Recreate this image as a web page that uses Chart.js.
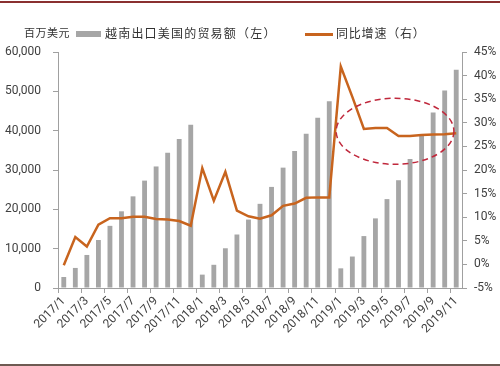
<!DOCTYPE html>
<html>
<head>
<meta charset="utf-8">
<script src="https://cdn.jsdelivr.net/npm/chart.js@4.4.1/dist/chart.umd.min.js"></script>
<style>
  html, body { margin: 0; padding: 0; background: #fff; }
  #wrap { position: relative; width: 500px; height: 366px; overflow: hidden; background: #fff; }
  #c { position: absolute; left: 0; top: 0; }
  .bd { position: absolute; left: 0; width: 500px; }
  .lg { position: absolute; font-family: "Noto Sans CJK SC", sans-serif; color: #333; white-space: nowrap; line-height: 1; }
</style>
</head>
<body>
<div id="wrap">
  <canvas id="c" width="500" height="366"></canvas>
  <div class="bd" style="top:1px;height:2px;background:#8a3030;"></div>
  <div class="bd" style="top:364px;height:2px;background:#6e5a52;"></div>
  <div class="lg" style="left:24px;top:27px;font-size:11px;letter-spacing:0.5px;">百万美元</div>
  <div style="position:absolute;left:76px;top:31px;width:25px;height:6px;background:#a6a6a6;"></div>
  <div class="lg" style="left:105px;top:27px;font-size:12px;letter-spacing:1.2px;">越南出口美国的贸易额（左）</div>
  <div style="position:absolute;left:305px;top:33px;width:28px;height:3px;background:#c8641e;"></div>
  <div class="lg" style="left:336px;top:27px;font-size:12px;letter-spacing:0.8px;">同比增速（右）</div>
</div>
<script>
const categories = [
  "2017/1","2017/2","2017/3","2017/4","2017/5","2017/6","2017/7","2017/8","2017/9","2017/10","2017/11","2017/12",
  "2018/1","2018/2","2018/3","2018/4","2018/5","2018/6","2018/7","2018/8","2018/9","2018/10","2018/11","2018/12",
  "2019/1","2019/2","2019/3","2019/4","2019/5","2019/6","2019/7","2019/8","2019/9","2019/10","2019/11"
];
// 越南出口美国的贸易额（累计，百万美元）
const tradeValue = [
  2800, 5100, 8400, 12200, 15800, 19500, 23300, 27300, 30900, 34400, 37900, 41500,
  3400, 5900, 10100, 13600, 17400, 21400, 25700, 30600, 34800, 39200, 43300, 47500,
  5000, 8000, 13200, 17700, 22600, 27400, 32800, 38900, 44600, 50200, 55500
];
// 同比增速（%）
const yoyGrowth = [
  -0.2, 5.8, 3.8, 8.4, 9.8, 9.8, 10.1, 10.1, 9.6, 9.5, 9.2, 8.2,
  20.4, 13.5, 19.6, 11.4, 10.2, 9.7, 10.4, 12.4, 12.9, 14.1, 14.2, 14.2,
  41.9, 35.5, 28.7, 28.9, 28.9, 27.2, 27.2, 27.4, 27.5, 27.6, 27.8
];
const leftTicks = [0, 10000, 20000, 30000, 40000, 50000, 60000];
const rightTicks = [-5, 0, 5, 10, 15, 20, 25, 30, 35, 40, 45];

// highlight ellipse annotation, in data units (category index / right-axis %)
const highlight = { xCenter: 28.7, xRadius: 5.1, yCenter: 28.2, yRadius: 7.0 };

const tickFont = { family: "'Liberation Sans Narrow', 'Roboto', sans-serif", size: 12 };
const axisGray = '#a0a0a0';

const ellipsePlugin = {
  id: 'ellipse',
  afterDatasetsDraw(chart) {
    const x = chart.scales.x, y1 = chart.scales.y1, ctx = chart.ctx;
    const cx = x.getPixelForValue(highlight.xCenter);
    const rx = Math.abs(x.getPixelForValue(highlight.xCenter + highlight.xRadius) - cx);
    const cy = y1.getPixelForValue(highlight.yCenter);
    const ry = Math.abs(y1.getPixelForValue(highlight.yCenter + highlight.yRadius) - cy);
    ctx.save();
    ctx.beginPath();
    ctx.ellipse(cx, cy, rx, ry, 0, 0, Math.PI * 2);
    ctx.setLineDash([6, 4]);
    ctx.lineWidth = 1.5;
    ctx.strokeStyle = '#c0283c';
    ctx.stroke();
    ctx.restore();
  }
};

new Chart(document.getElementById('c'), {
  data: {
    labels: categories,
    datasets: [
      {
        type: 'line', label: '同比增速（右）', data: yoyGrowth, yAxisID: 'y1',
        borderColor: '#c8641e', borderWidth: 2.5, pointRadius: 0, tension: 0, order: 0
      },
      {
        type: 'bar', label: '越南出口美国的贸易额（左）', data: tradeValue, yAxisID: 'y',
        backgroundColor: '#a6a6a6', barPercentage: 0.42, categoryPercentage: 1, order: 1
      }
    ]
  },
  options: {
    responsive: false, animation: false, devicePixelRatio: 1,
    layout: { padding: { top: 52, left: 0, right: 0, bottom: 0 } },
    plugins: { legend: { display: false }, tooltip: { enabled: false } },
    scales: {
      x: {
        offset: true,
        grid: {
          offset: true, drawOnChartArea: false, tickLength: 5,
          color: (c) => (c.index % 2 === 0 ? axisGray : 'rgba(0,0,0,0)')
        },
        border: { color: axisGray },
        ticks: {
          autoSkip: false, maxRotation: 45, minRotation: 45, color: '#404040', font: tickFont, padding: 1,
          callback: (v, i) => (i % 2 === 0 ? categories[i] : '')
        },
        afterFit: (s) => { s.height = 78; }
      },
      y: {
        position: 'left', min: 0, max: 60000,
        afterBuildTicks: (s) => { s.ticks = leftTicks.map(v => ({ value: v })); },
        grid: { drawOnChartArea: false, tickLength: 5, color: axisGray },
        border: { color: axisGray },
        ticks: { color: '#404040', font: tickFont, padding: 12, callback: (v) => v.toLocaleString('en-US') },
        afterFit: (s) => { s.width = 58; }
      },
      y1: {
        position: 'right', min: -5, max: 45,
        afterBuildTicks: (s) => { s.ticks = rightTicks.map(v => ({ value: v })); },
        grid: { drawOnChartArea: false, tickLength: 5, color: axisGray },
        border: { color: axisGray },
        ticks: { color: '#404040', font: tickFont, padding: 7, callback: (v) => v + '%' },
        afterFit: (s) => { s.width = 38; }
      }
    }
  },
  plugins: [ellipsePlugin]
});
</script>
</body>
</html>
